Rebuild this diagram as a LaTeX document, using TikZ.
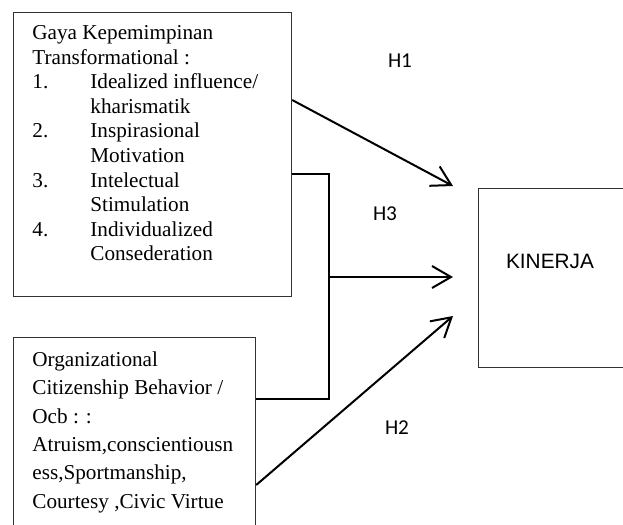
\documentclass[tikz,border=0pt]{standalone}
\usepackage{fontspec}
\setmainfont{Liberation Serif}
\newfontfamily\hypfont{Carlito}
\newfontfamily\kinfont{Liberation Sans}
\usetikzlibrary{positioning,arrows.meta}

\begin{document}
\begin{tikzpicture}[
  x=0.5pt, y=-0.5pt,
  varbox/.style={
    rectangle, draw=black!80, line width=0.6pt, inner sep=0pt,
    anchor=north west
  },
  vartext/.style={
    inner sep=0pt, anchor=north west, align=left
  },
  hyplink/.style={
    -{Straight Barb[length=9.5pt,width=11pt]}, line width=1pt
  },
  hyplabel/.style={font=\hypfont\fontsize{10.6}{12}\selectfont, inner sep=0pt}
]
\useasboundingbox (0,0) rectangle (623,525);
\clip (0,0) rectangle (623,525);

% variable boxes
\node[varbox, minimum width=139pt, minimum height=142pt] (gaya) at (13,12) {};
\node[varbox, minimum width=121pt, minimum height=104pt] (ocb) at (13,337) {};
\node[varbox, minimum width=75pt, minimum height=89.5pt] (kin) at (478,188) {};

\node[vartext, font=\fontsize{10.6}{12.3}\selectfont] (gayatext) at (32,25) {
  Gaya Kepemimpinan\\
  Transformational :\\
  \makebox[29pt][l]{1.}Idealized influence/\\
  \hspace*{29pt}kharismatik\\
  \makebox[29pt][l]{2.}Inspirasional\\
  \hspace*{29pt}Motivation\\
  \makebox[29pt][l]{3.}Intelectual\\
  \hspace*{29pt}Stimulation\\
  \makebox[29pt][l]{4.}Individualized\\
  \hspace*{29pt}Consederation
};
\node[vartext, font=\fontsize{10.6}{14.15}\selectfont] (ocbtext) at (32,351.5) {
  Organizational\\
  Citizenship Behavior /\\
  Ocb : :\\
  Atruism,conscientiousn\\
  ess,Sportmanship,\\
  Courtesy ,Civic Virtue
};
\node[font=\kinfont\fontsize{10.4}{12}\selectfont, inner sep=0pt] (kintext) at (550,261) {KINERJA};

% arrow ends and the joint of H3
\coordinate (t1) at (453,186);
\coordinate (t3) at (453,277);
\coordinate (t2) at (453,316);
\coordinate (join) at (329,277);

\draw[hyplink] (gaya.east |- 0,100) -- (t1);
\draw[hyplink] (ocb.east |- 0,485) -- (t2);
\draw[line width=1pt] (gaya.east |- 0,174) -| (join) |- (ocb.east |- 0,399);
\draw[hyplink] (join) -- (t3);

\node[hyplabel] (h1) at (400,61) {H1};
\node[hyplabel] (h3) at (385,214) {H3};
\node[hyplabel] (h2) at (397,428) {H2};

\end{tikzpicture}
\end{document}
